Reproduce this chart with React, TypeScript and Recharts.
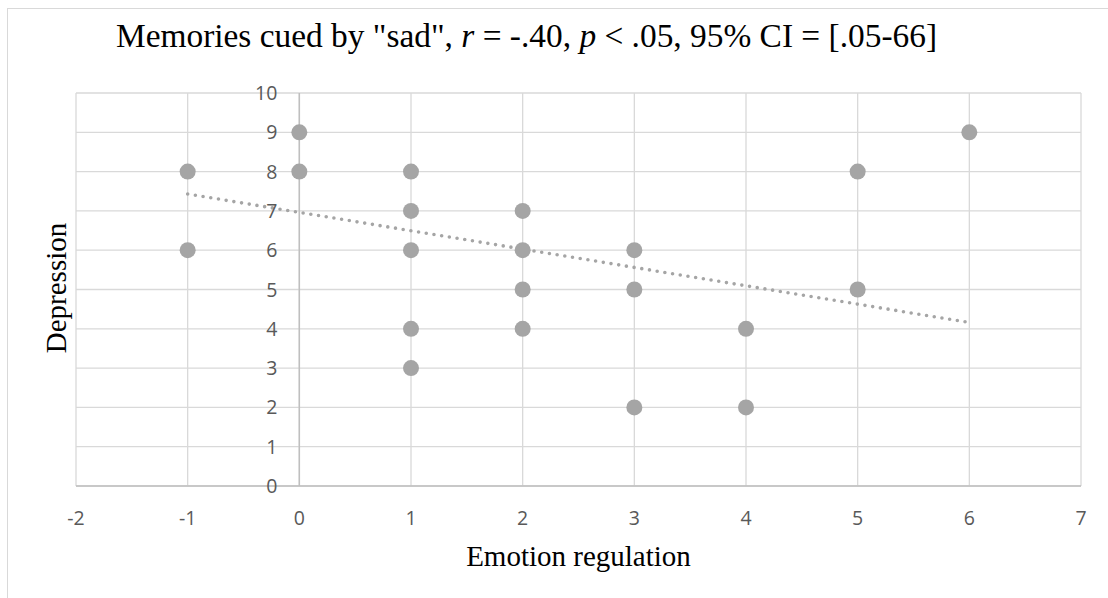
import React from 'react';
import { ScatterChart, Scatter, XAxis, YAxis, CartesianGrid, ReferenceLine } from 'recharts';

const xTicks = [-2, -1, 0, 1, 2, 3, 4, 5, 6, 7];
const yTicks = [0, 1, 2, 3, 4, 5, 6, 7, 8, 9, 10];
const emotionRegulation = [-1, -1, 0, 0, 1, 1, 1, 1, 1, 2, 2, 2, 2, 3, 3, 3, 4, 4, 5, 5, 6];
const depression = [8, 6, 9, 8, 8, 7, 6, 4, 3, 7, 6, 5, 4, 6, 5, 2, 4, 2, 8, 5, 9];
const trendX = [-1, 6];
const trendY = [7.43, 4.16];

const points = emotionRegulation.map((x, i) => ({ x, y: depression[i] }));
const trend = trendX.map((x, i) => ({ x, y: trendY[i] }));

const W = 1108;
const H = 598;
const PLOT_LEFT = 76;
const PLOT_RIGHT = 1081;
const PLOT_TOP = 93;
const PLOT_BOTTOM = 486;
const Y_AXIS_W = 10;
const X_AXIS_H = 30;
const X_MIN = xTicks[0];
const X_MAX = xTicks[xTicks.length - 1];

const TICK_FONT = '"Open Sans", "Noto Sans", sans-serif';
const SERIF = '"Liberation Serif", "Times New Roman", serif';

const XTick = (props: any) => {
  const { x, y, payload } = props;
  return (
    <text x={x} y={y} dy={31} textAnchor="middle" fill="#595959" fontSize={19.5} fontFamily={TICK_FONT}>
      {payload.value}
    </text>
  );
};

const YTick = (props: any) => {
  const { y, payload } = props;
  const zeroX = PLOT_LEFT + ((0 - X_MIN) / (X_MAX - X_MIN)) * (PLOT_RIGHT - PLOT_LEFT);
  return (
    <text x={zeroX - 22} y={y} dy="0.36em" textAnchor="end" fill="#595959" fontSize={19.5} fontFamily={TICK_FONT}>
      {payload.value}
    </text>
  );
};

const Dot = (props: any) => <circle cx={props.cx} cy={props.cy} r={8} fill="#a5a5a5" />;
const NoDot = () => <g />;

export default function App() {
  return (
    <div style={{ position: 'fixed', left: 0, top: 0, width: W, height: H, overflow: 'hidden', background: '#fff' }}>
      <div
        style={{
          position: 'absolute',
          left: 7,
          top: 8,
          width: 1300,
          height: 800,
          border: '1px solid #d9d9d9',
          boxSizing: 'border-box',
        }}
      />
      <div style={{ position: 'absolute', left: 0, top: 0 }}>
        <ScatterChart
          width={W}
          height={H}
          margin={{
            top: PLOT_TOP,
            right: W - PLOT_RIGHT,
            bottom: H - PLOT_BOTTOM - X_AXIS_H,
            left: PLOT_LEFT - Y_AXIS_W,
          }}
        >
          <CartesianGrid stroke="#d9d9d9" strokeWidth={1.3} />
          <XAxis
            type="number"
            dataKey="x"
            domain={[X_MIN, X_MAX]}
            ticks={xTicks}
            interval={0}
            height={X_AXIS_H}
            axisLine={{ stroke: '#bfbfbf', strokeWidth: 1.5 }}
            tickLine={false}
            tick={<XTick />}
            allowDataOverflow
          />
          <YAxis
            type="number"
            dataKey="y"
            domain={[0, 10]}
            ticks={yTicks}
            interval={0}
            width={Y_AXIS_W}
            axisLine={false}
            tickLine={false}
            tick={<YTick />}
          />
          <ReferenceLine x={0} stroke="#bfbfbf" strokeWidth={1.5} />
          <Scatter
            data={trend}
            isAnimationActive={false}
            shape={<NoDot />}
            line={{ stroke: '#a5a5a5', strokeWidth: 3.6, strokeDasharray: '0 7.8', strokeLinecap: 'round' }}
          />
          <Scatter data={points} isAnimationActive={false} shape={<Dot />} />
        </ScatterChart>
      </div>
      <svg width={W} height={H} style={{ position: 'absolute', left: 0, top: 0, pointerEvents: 'none' }}>
        <text x={526.5} y={47} textAnchor="middle" fontFamily={SERIF} fontSize={33.4} fill="#000">
          {'Memories cued by "sad", '}
          <tspan fontStyle="italic">r</tspan>
          {' = -.40, '}
          <tspan fontStyle="italic">p</tspan>
          {' < .05, 95% CI = [.05-66]'}
        </text>
        <text transform="translate(66,288) rotate(-90)" textAnchor="middle" fontFamily={SERIF} fontSize={29} fill="#000">
          Depression
        </text>
        <text x={578.5} y={566} textAnchor="middle" fontFamily={SERIF} fontSize={29} fill="#000">
          Emotion regulation
        </text>
      </svg>
    </div>
  );
}
